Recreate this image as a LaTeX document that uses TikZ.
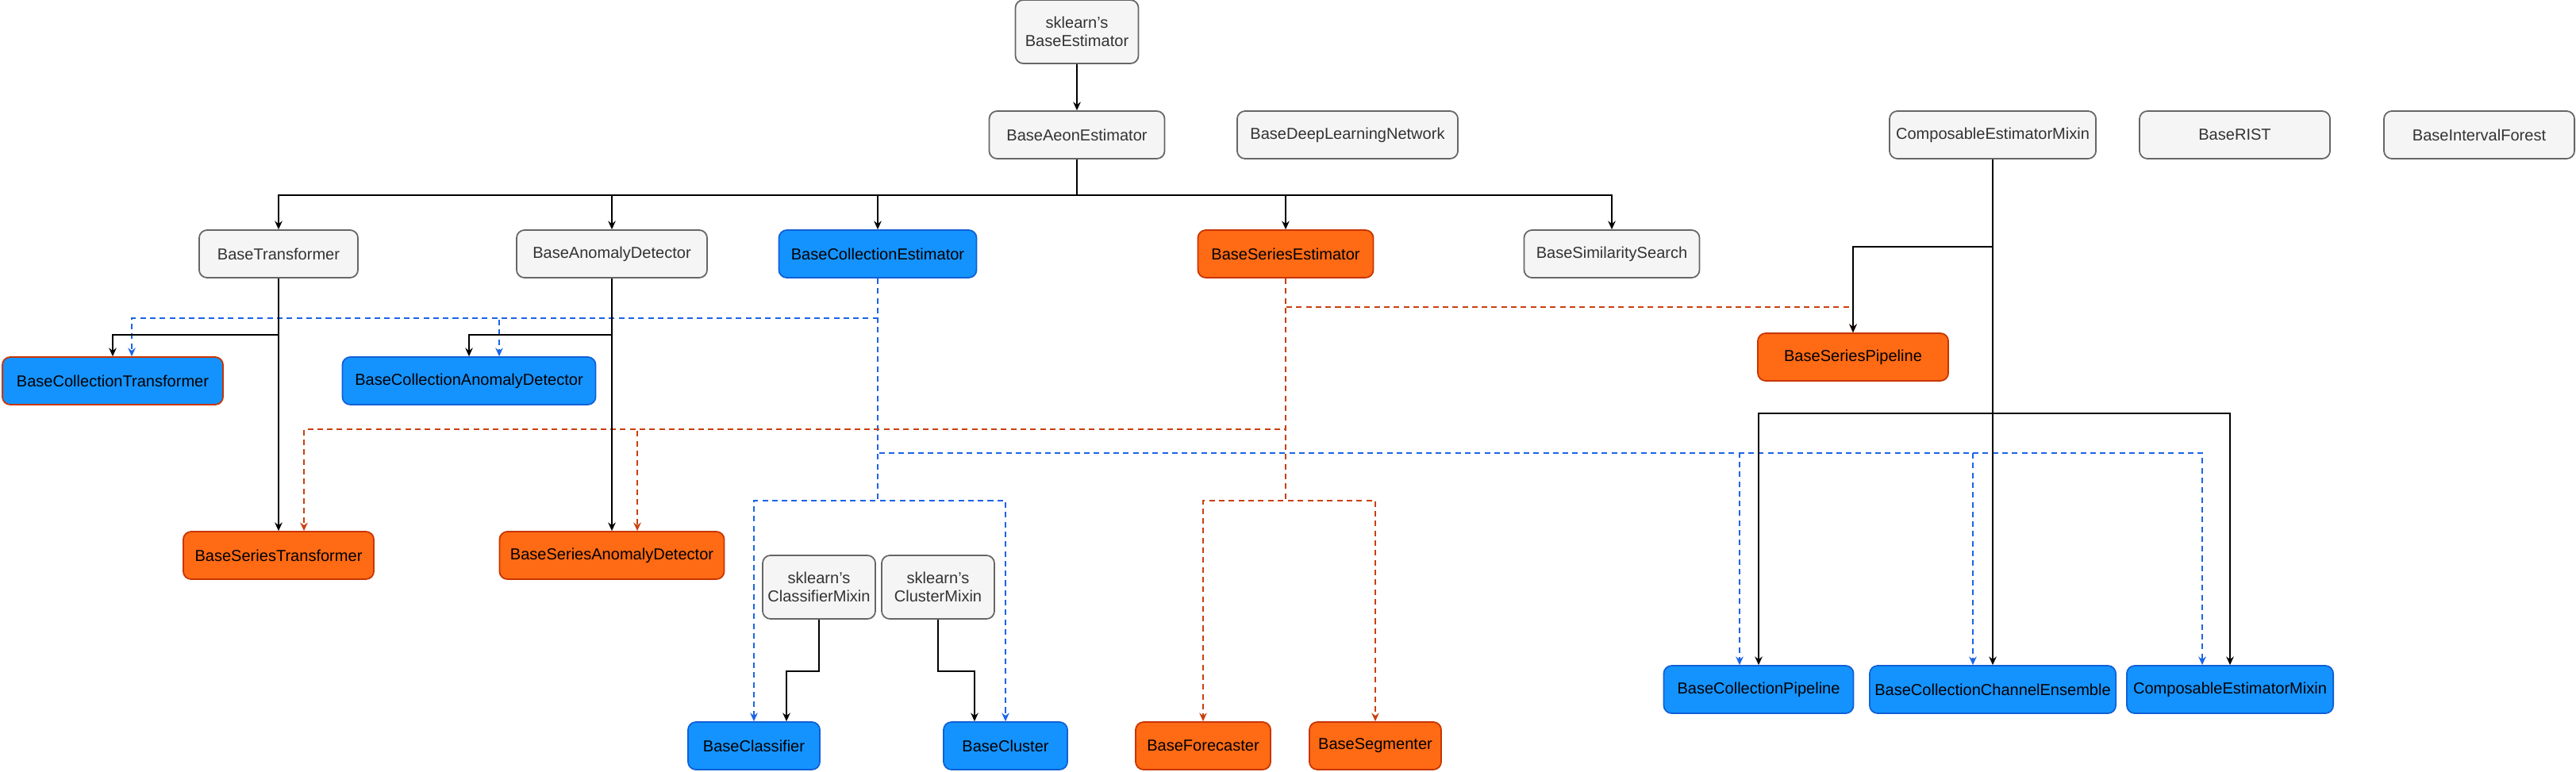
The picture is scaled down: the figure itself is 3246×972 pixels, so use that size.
\documentclass[tikz,border=0pt]{standalone}
\usepackage{fontspec}
\setmainfont{Liberation Sans}
\usetikzlibrary{arrows.meta, positioning}
\definecolor{grayfill}{HTML}{F5F5F5}
\definecolor{grayline}{HTML}{666666}
\definecolor{graytext}{HTML}{333333}
\definecolor{colfill}{HTML}{1493FF}
\definecolor{colline}{HTML}{1060D6}
\definecolor{coldash}{HTML}{1C64E6}
\definecolor{serfill}{HTML}{FF6A14}
\definecolor{serline}{HTML}{C73500}
\definecolor{serdash}{HTML}{C94010}

\begin{document}
\begin{tikzpicture}[
  x=0.01cm, y=0.01cm,
  base/.style={rounded corners=0.1cm, minimum height=0.6cm, inner sep=1pt, align=center, line width=0.5pt, font=\fontsize{5.7pt}{6.6pt}\selectfont},
  gry/.style={base, draw=grayline, fill=grayfill, text=graytext},
  col/.style={base, draw=colline, fill=colfill},
  ser/.style={base, draw=serline, fill=serfill},
  inh/.style={-{Stealth[length=3pt, width=2.7pt]}, line width=0.6pt, draw=black},
  cdep/.style={inh, draw=coldash, dash pattern=on 2pt off 1.5pt},
  sdep/.style={inh, draw=serdash, dash pattern=on 2pt off 1.5pt}
]
\useasboundingbox (0,0) rectangle (3246,-972);
% top rows
\node[gry, minimum width=1.55cm, minimum height=0.8cm] (skbe) at (1357,-40) {sklearn's\\BaseEstimator};
\node[gry, minimum width=2.21cm] (aeon) at (1357,-170) {BaseAeonEstimator};
\node[gry, minimum width=2.78cm] (dln) at (1698,-170) {BaseDeepLearningNetwork};
\node[gry, minimum width=2.6cm] (cem) at (2511,-170) {ComposableEstimatorMixin};
\node[gry, minimum width=2.4cm] (rist) at (2816,-170) {BaseRIST};
\node[gry, minimum width=2.4cm] (ivf) at (3124,-170) {BaseIntervalForest};
% second row
\node[gry, minimum width=2.0cm] (tf) at (351,-320) {BaseTransformer};
\node[gry, minimum width=2.4cm] (ad) at (771,-320) {BaseAnomalyDetector};
\node[col, minimum width=2.49cm] (ce) at (1106,-320) {BaseCollectionEstimator};
\node[ser, minimum width=2.21cm] (se) at (1620,-320) {BaseSeriesEstimator};
\node[gry, minimum width=2.21cm] (ss) at (2031,-320) {BaseSimilaritySearch};
% collection / series children
\node[col, draw=serline, minimum width=2.78cm] (ctf) at (142,-480) {BaseCollectionTransformer};
\node[col, minimum width=3.19cm] (cad) at (591,-480) {BaseCollectionAnomalyDetector};
\node[ser, minimum width=2.4cm] (sp) at (2335,-450) {BaseSeriesPipeline};
\node[ser, minimum width=2.4cm] (stf) at (351,-700) {BaseSeriesTransformer};
\node[ser, minimum width=2.83cm] (sad) at (771,-700) {BaseSeriesAnomalyDetector};
\node[gry, minimum width=1.42cm, minimum height=0.8cm] (clfm) at (1032,-740) {sklearn's\\ClassifierMixin};
\node[gry, minimum width=1.42cm, minimum height=0.8cm] (clsm) at (1182,-740) {sklearn's\\ClusterMixin};
\node[col, minimum width=1.66cm] (clf) at (950,-940) {BaseClassifier};
\node[col, minimum width=1.56cm] (cls) at (1267,-940) {BaseCluster};
\node[ser, minimum width=1.7cm] (fc) at (1516,-940) {BaseForecaster};
\node[ser, minimum width=1.66cm] (sg) at (1733,-940) {BaseSegmenter};
\node[col, minimum width=2.39cm] (cp) at (2216,-869) {BaseCollectionPipeline};
\node[col, minimum width=3.1cm] (cce) at (2511,-869) {BaseCollectionChannelEnsemble};
\node[col, minimum width=2.6cm] (cem2) at (2810,-869) {ComposableEstimatorMixin};

% collection dependencies
\draw[cdep] (ce.south) -- ++(0,-50) -| ([xshift=0.24cm]ctf.north);
\draw[cdep] (ce.south) -- ++(0,-50) -| ([xshift=0.38cm]cad.north);
\draw[cdep] (ce.south) -- ++(0,-220) -| ([xshift=-0.24cm]cp.north);
\draw[cdep] (ce.south) -- ++(0,-220) -| ([xshift=-0.25cm]cce.north);
\draw[cdep] (ce.south) -- ++(0,-220) -| ([xshift=-0.35cm]cem2.north);
\draw[cdep] (ce.south) -- ++(0,-280) -| (clf.north);
\draw[cdep] (ce.south) -- ++(0,-280) -| (cls.north);
% series dependencies
\draw[sdep] (se.south) -- ++(0,-36) -| (sp.north);
\draw[sdep] (se.south) -- ++(0,-190) -| ([xshift=0.32cm]stf.north);
\draw[sdep] (se.south) -- ++(0,-190) -| ([xshift=0.32cm]sad.north);
\draw[sdep] (se.south) -- ++(0,-280) -| (fc.north);
\draw[sdep] (se.south) -- ++(0,-280) -| (sg.north);

% inheritance
\draw[inh] (skbe) -- (aeon);
\foreach \c in {tf, ad, ce, se, ss}
  \draw[inh] (aeon.south) -- ++(0,-45) -| (\c.north);
\draw[inh] (tf) -- (stf);
\draw[inh] (tf.south) -- ++(0,-71) -| (ctf.north);
\draw[inh] (ad) -- (sad);
\draw[inh] (ad.south) -- ++(0,-71) -| (cad.north);
\draw[inh] (cem.south) -- ++(0,-110) -| (sp.north);
\foreach \c in {cp, cce, cem2}
  \draw[inh] (cem.south) -- ++(0,-320) -| (\c.north);
\draw[inh] (clfm.south) -- ++(0,-65) -| ([xshift=0.41cm]clf.north);
\draw[inh] (clsm.south) -- ++(0,-65) -| ([xshift=-0.39cm]cls.north);
\end{tikzpicture}
\end{document}
